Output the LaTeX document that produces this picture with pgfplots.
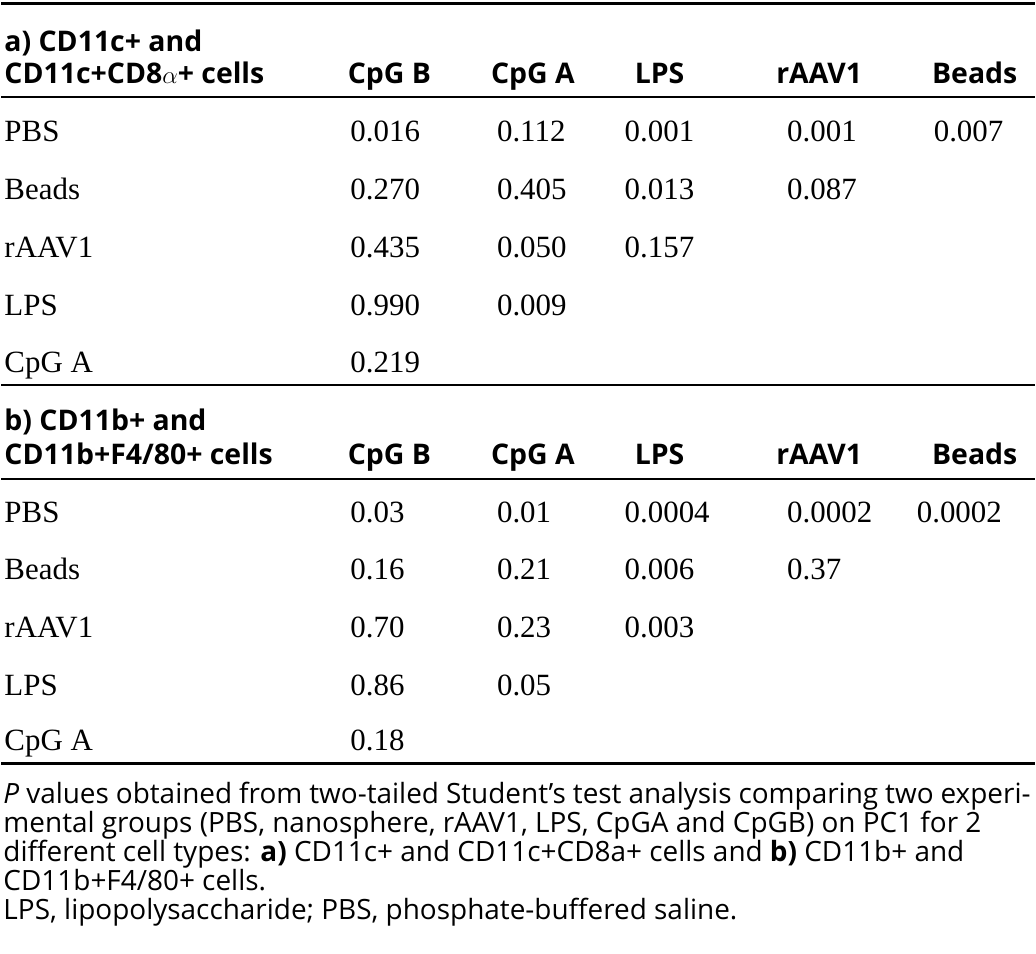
\documentclass[border=0pt]{standalone}
\usepackage{fontspec}
\setmainfont{Liberation Serif}
\newfontfamily\hsans{Open Sans}
\newfontfamily\fsans{Open Sans}
\usepackage{pgfplots}
\usepackage{pgfplotstable}
\pgfplotsset{compat=1.18}
\newcommand\bodyfont{\rmfamily\fontsize{31bp}{31bp}\selectfont}
\newcommand\headfont{\hsans\bfseries\fontsize{28.5bp}{28.5bp}\selectfont}
\newcommand\footfont{\fsans\fontsize{28bp}{28bp}\selectfont}
\newcommand\fnline[1]{\ifcase#1\or
  \makebox[1030bp][s]{\textit{P} values obtained from two-tailed Student’s test analysis comparing two experi-}\or
  mental groups (PBS, nanosphere, rAAV1, LPS, CpGA and CpGB) on PC1 for 2\or
  different cell types: \textbf{a)} CD11c+ and CD11c+CD8a+ cells and \textbf{b)} CD11b+ and\or
  CD11b+F4/80+ cells.\or
  LPS, lipopolysaccharide; PBS, phosphate-buffered saline.\fi}
\pgfplotsset{
  txt/.style n args={2}{draw=none, mark=none, nodes near coords,
    point meta=explicit symbolic,
    every node near coord/.append style={anchor=#1, inner sep=0pt, outer sep=0pt, font=#2}},
}
\pgfplotstableread{
x y t
3 142 PBS
3 200 Beads
3 258 rAAV1
3 316 LPS
3 374 {CpG A}
3 524 PBS
3 581 Beads
3 639 rAAV1
3 697 LPS
3 753 {CpG A}
}\rowlabels
\pgfplotstableread{
x y t
389 84 {CpG B}
533 84 {CpG A}
660 84 LPS
820 84 rAAV1
976 84 Beads
389 466 {CpG B}
533 466 {CpG A}
660 466 LPS
820 466 rAAV1
976 466 Beads
}\colheads
\pgfplotstableread{
x y t
3 52 {a) CD11c+ and}
3 84 {CD11c+CD8$\alpha$+ cells}
3 432 {b) CD11b+ and}
3 466 {CD11b+F4/80+ cells}
}\groupheads
\pgfplotstableread{
x y t
350 142 0.016
350 200 0.270
350 258 0.435
350 316 0.990
350 374 0.219
497 142 0.112
497 200 0.405
497 258 0.050
497 316 0.009
625 142 0.001
625 200 0.013
625 258 0.157
788 142 0.001
788 200 0.087
935 142 0.007
}\pvalsa
\pgfplotstableread{
x y t
350 524 0.03
350 581 0.16
350 639 0.70
350 697 0.86
350 753 0.18
497 524 0.01
497 581 0.21
497 639 0.23
497 697 0.05
625 524 0.0004
625 581 0.006
625 639 0.003
788 524 0.0002
788 581 0.37
918 524 0.0002
}\pvalsb
\begin{document}
\begin{tikzpicture}
\begin{axis}[
  scale only axis, width=1036bp, height=956bp,
  xmin=0, xmax=1036, ymin=0, ymax=956, y dir=reverse,
  hide axis, clip=false,
]
\addplot[draw=none] coordinates {(0,0) (1036,956)};
\addplot[black, line width=3bp] coordinates {(0,4) (1036,4)};
\addplot[black, line width=2bp] coordinates {(0,97) (1036,97)};
\addplot[black, line width=2.5bp] coordinates {(0,386) (1036,386)};
\addplot[black, line width=2bp] coordinates {(0,480) (1036,480)};
\addplot[black, line width=3bp] coordinates {(0,766) (1036,766)};
\addplot[txt={base west}{\bodyfont}] table[x=x, y=y, meta=t] {\rowlabels};
\addplot[txt={base}{\headfont}] table[x=x, y=y, meta=t] {\colheads};
\addplot[txt={base west}{\headfont}] table[x=x, y=y, meta=t] {\groupheads};
\addplot[txt={base west}{\bodyfont}] table[x=x, y=y, meta=t] {\pvalsa};
\addplot[txt={base west}{\bodyfont}] table[x=x, y=y, meta=t] {\pvalsb};
\addplot[txt={base west}{\footfont}, nodes near coords={\fnline{\pgfplotspointmeta}}]
  coordinates {(2,806) [1] (2,835) [2] (2,864) [3] (2,893) [4] (2,922) [5]};
\end{axis}
\end{tikzpicture}
\end{document}
